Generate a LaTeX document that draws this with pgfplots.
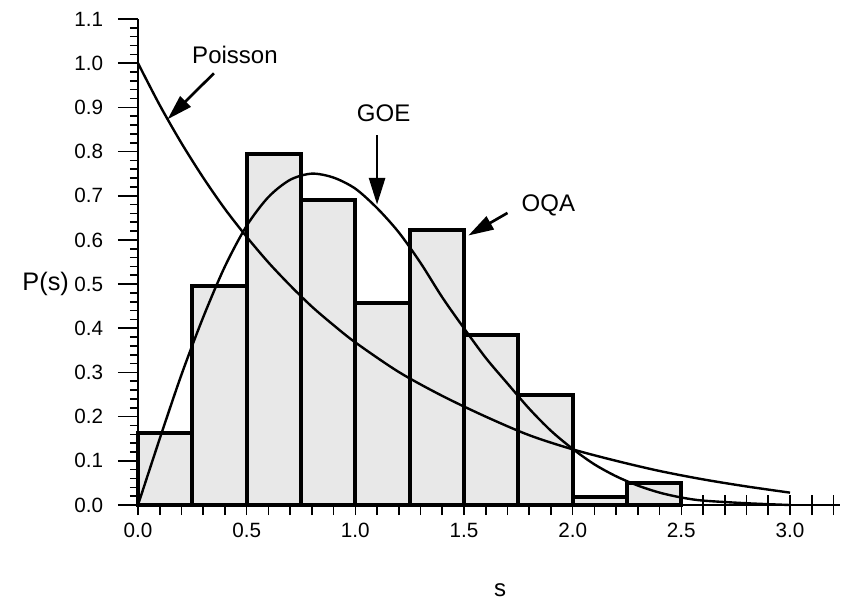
\documentclass[border=0pt]{standalone}
\usepackage{fontspec}
\setmainfont{Liberation Sans}
\usepackage{pgfplots}
\pgfplotsset{compat=1.18}
\usetikzlibrary{arrows.meta}

\begin{document}
\begin{tikzpicture}
\path[use as bounding box] (-103.5pt,-72pt) rectangle (527.25pt,378.75pt);
\begin{axis}[
  at={(0pt,0pt)}, anchor=south west,
  scale only axis, width=526.5pt, height=364.5pt,
  xmin=0, xmax=3.23, ymin=0, ymax=1.1,
  axis lines*=left,
  axis line style={line width=1.5pt},
  clip=false,
  xtick={0,0.1,...,3.21},
  xticklabels={0.0,,,,,0.5,,,,,1.0,,,,,1.5,,,,,2.0,,,,,2.5,,,,,3.0,,},
  ytick={0,0.1,...,1.11},
  minor y tick num=4,
  xtick align=center, ytick align=outside,
  major tick length=15pt, minor tick length=6pt,
  every tick/.style={black, line width=1.2pt},
  /pgf/number format/assume math mode=true,
  yticklabel={\pgfmathprintnumber[fixed,fixed zerofill,precision=1]{\tick}},
  tick label style={font=\fontsize{15.5}{18}\selectfont},
  yticklabel style={anchor=east, inner sep=0pt, xshift=-11pt},
  xticklabel style={anchor=center, inner sep=0pt, yshift=-11.5pt},
]
% histogram (OQA)
\addplot[ybar interval, fill=black!9, draw=black, line width=3pt] coordinates {
  (0.00,0.163) (0.25,0.495) (0.50,0.794) (0.75,0.690) (1.00,0.457)
  (1.25,0.622) (1.50,0.385) (1.75,0.249) (2.00,0.018) (2.25,0.050) (2.50,0)
};
% Poisson
\addplot[smooth, black, line width=1.8pt] coordinates {
  (0,1.0) (0.1,0.905) (0.2,0.819) (0.3,0.741) (0.4,0.670) (0.5,0.607)
  (0.6,0.549) (0.7,0.497) (0.8,0.449) (0.9,0.407) (1.0,0.368) (1.2,0.301)
  (1.4,0.247) (1.6,0.200) (1.8,0.158) (2.0,0.126) (2.2,0.100) (2.4,0.077)
  (2.6,0.058) (2.8,0.042) (3.0,0.028)
};
% GOE
\addplot[smooth, black, line width=1.8pt] coordinates {
  (0,0) (0.1,0.150) (0.2,0.295) (0.3,0.425) (0.4,0.540) (0.5,0.632)
  (0.6,0.697) (0.7,0.736) (0.8,0.750) (0.9,0.741) (1.0,0.716) (1.1,0.672)
  (1.2,0.617) (1.3,0.548) (1.4,0.470) (1.5,0.400) (1.6,0.333) (1.7,0.275)
  (1.8,0.218) (1.9,0.168) (2.0,0.127) (2.1,0.092) (2.2,0.065) (2.3,0.044)
  (2.4,0.028) (2.5,0.017) (2.6,0.010) (2.8,0.004) (3.0,0.0)
};
% annotations
\draw[line width=2pt, -{Triangle[length=19pt,width=11pt]}] (axis cs:0.349,0.977) -- (axis cs:0.136,0.873);
\node[font=\fontsize{18}{21}\selectfont] at (axis cs:0.446,1.018) {Poisson};
\draw[line width=2pt, -{Triangle[length=20pt,width=12pt]}] (axis cs:1.10,0.837) -- (axis cs:1.10,0.680);
\node[font=\fontsize{18}{21}\selectfont] at (axis cs:1.13,0.887) {GOE};
\draw[line width=2pt, -{Triangle[length=19pt,width=11pt]}] (axis cs:1.70,0.661) -- (axis cs:1.52,0.610);
\node[font=\fontsize{18}{21}\selectfont, anchor=west, inner sep=0pt] at (axis cs:1.764,0.679) {OQA};
% axis labels
\node[font=\fontsize{19}{22}\selectfont, anchor=east, inner sep=0pt] at (axis description cs:-0.098,0.4547) {P(s)};
\node[font=\fontsize{18}{21}\selectfont] at (axis description cs:0.516,-0.175) {s};
\end{axis}
\end{tikzpicture}
\end{document}
